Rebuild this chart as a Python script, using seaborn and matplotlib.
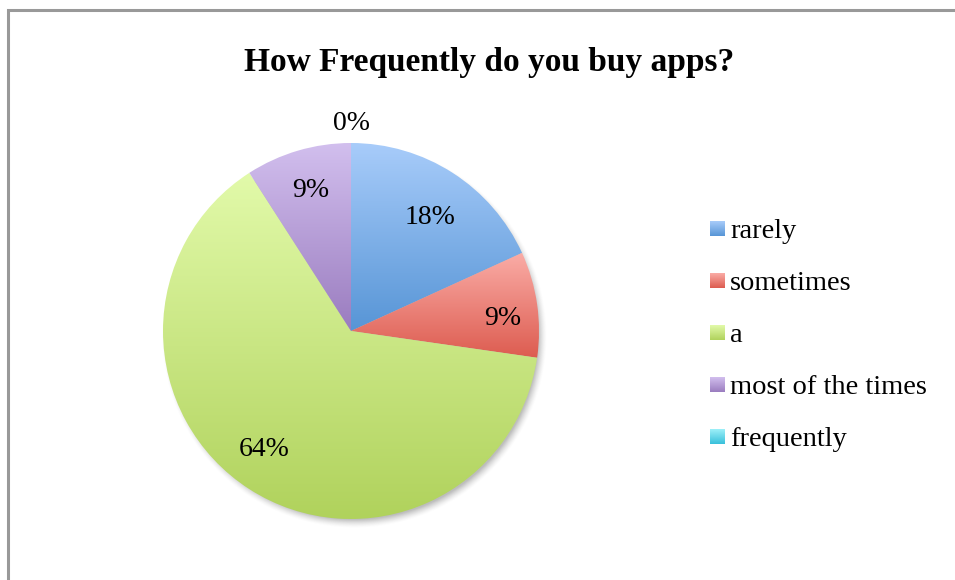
import numpy as np
import matplotlib
matplotlib.use("Agg")
import matplotlib.pyplot as plt
import matplotlib.colors as mcolors
from matplotlib.patches import Rectangle
import seaborn as sns

# Survey answers (respondent counts) for each category
categories = ["rarely", "sometimes", "a", "most of the times", "frequently"]
counts = [2, 1, 7, 1, 0]
title = "How Frequently do you buy apps?"

# Top / bottom colours of the vertical gradient used for each slice
top_colors = ["#a8ccfa", "#faaca6", "#e2faaa", "#d2bfee", "#9ef0f9"]
bottom_colors = ["#5795d6", "#dd5c50", "#b0d25c", "#9a7cbf", "#38c0da"]

sns.set_theme(style="white")
plt.rcParams["font.family"] = ["Liberation Serif", "DejaVu Serif"]

W, H = 955, 580
fig = plt.figure(figsize=(W / 100, H / 100), dpi=100)
ax = fig.add_axes([0, 0, 1, 1])

# Chart frame (continues beyond the right and bottom edges)
ax.add_patch(Rectangle((8, -20), W + 40, H - 10 + 20, fill=False,
                       edgecolor="#999999", linewidth=2.2, zorder=0))

cx, cy, R = 351, 249, 188

# Soft drop shadow behind the pie
gx = np.linspace(cx - R - 30, cx + R + 30, 500)
gy = np.linspace(cy - R - 30, cy + R + 30, 500)
XX, YY = np.meshgrid(gx, gy)
d = np.hypot(XX - (cx + 3), YY - (cy - 5))
soft = 9.0
alpha = np.clip((R - d) / soft + 0.5, 0, 1) ** 1.5 * 0.4
shadow = np.zeros(d.shape + (4,))
shadow[..., :3] = 0.35
shadow[..., 3] = alpha
ax.imshow(shadow, extent=(gx[0], gx[-1], gy[0], gy[-1]), origin="lower",
          zorder=1, interpolation="bilinear")

wedges, _, autotexts = ax.pie(
    counts, startangle=90, counterclock=False, center=(cx, cy), radius=R,
    autopct=lambda p: f"{p:.0f}%", pctdistance=0.78,
    colors=bottom_colors, wedgeprops=dict(linewidth=0, zorder=2),
    textprops=dict(fontsize=20, color="black", zorder=5),
    normalize=True, frame=True)
ax.set_xlim(0, W)
ax.set_ylim(0, H)
ax.set_aspect("equal")
ax.axis("off")

# Fill every slice with its vertical gradient
grad = np.linspace(0, 1, 256).reshape(-1, 1)
for w, ct, cb in zip(wedges, top_colors, bottom_colors):
    w.set_facecolor("none")
    cmap = mcolors.LinearSegmentedColormap.from_list("g", [cb, ct])
    bb = w.get_path().get_extents(w.get_transform() - ax.transData)
    if bb.width < 1e-6:
        continue
    im = ax.imshow(grad, cmap=cmap, aspect="auto", origin="lower",
                   extent=(bb.x0, bb.x1, bb.y0, bb.y1), zorder=3,
                   interpolation="bilinear")
    im.set_clip_path(w)

# Place percentage labels: radial factor and small angular nudge per slice
label_place = [(0.75, -1.6), (0.81, -2.5), (0.77, -4.3), (0.79, -0.8), (1.12, 0.0)]
for t, w, (rf, da) in zip(autotexts, wedges, label_place):
    ang = np.deg2rad((w.theta1 + w.theta2) / 2 + da)
    t.set_position((cx + rf * R * np.cos(ang), cy + rf * R * np.sin(ang) - 3))

ax.text(489, H - 62, title, ha="center", va="center", fontsize=24,
        fontweight="bold", color="black")

# Legend with gradient swatches
lx, ly0, dy, sz = 710, H - 229, 52, 15
for i, (lab, ct, cb) in enumerate(zip(categories, top_colors, bottom_colors)):
    y = ly0 - i * dy
    cmap = mcolors.LinearSegmentedColormap.from_list("g", [cb, ct])
    ax.imshow(grad, cmap=cmap, aspect="auto", origin="lower",
              extent=(lx, lx + sz, y - sz / 2, y + sz / 2), zorder=3)
    ax.text(lx + 20, y - 2, lab, ha="left", va="center", fontsize=20.5, color="black")

ax.set_xlim(0, W)
ax.set_ylim(0, H)
fig.savefig("out.png", dpi=100)
